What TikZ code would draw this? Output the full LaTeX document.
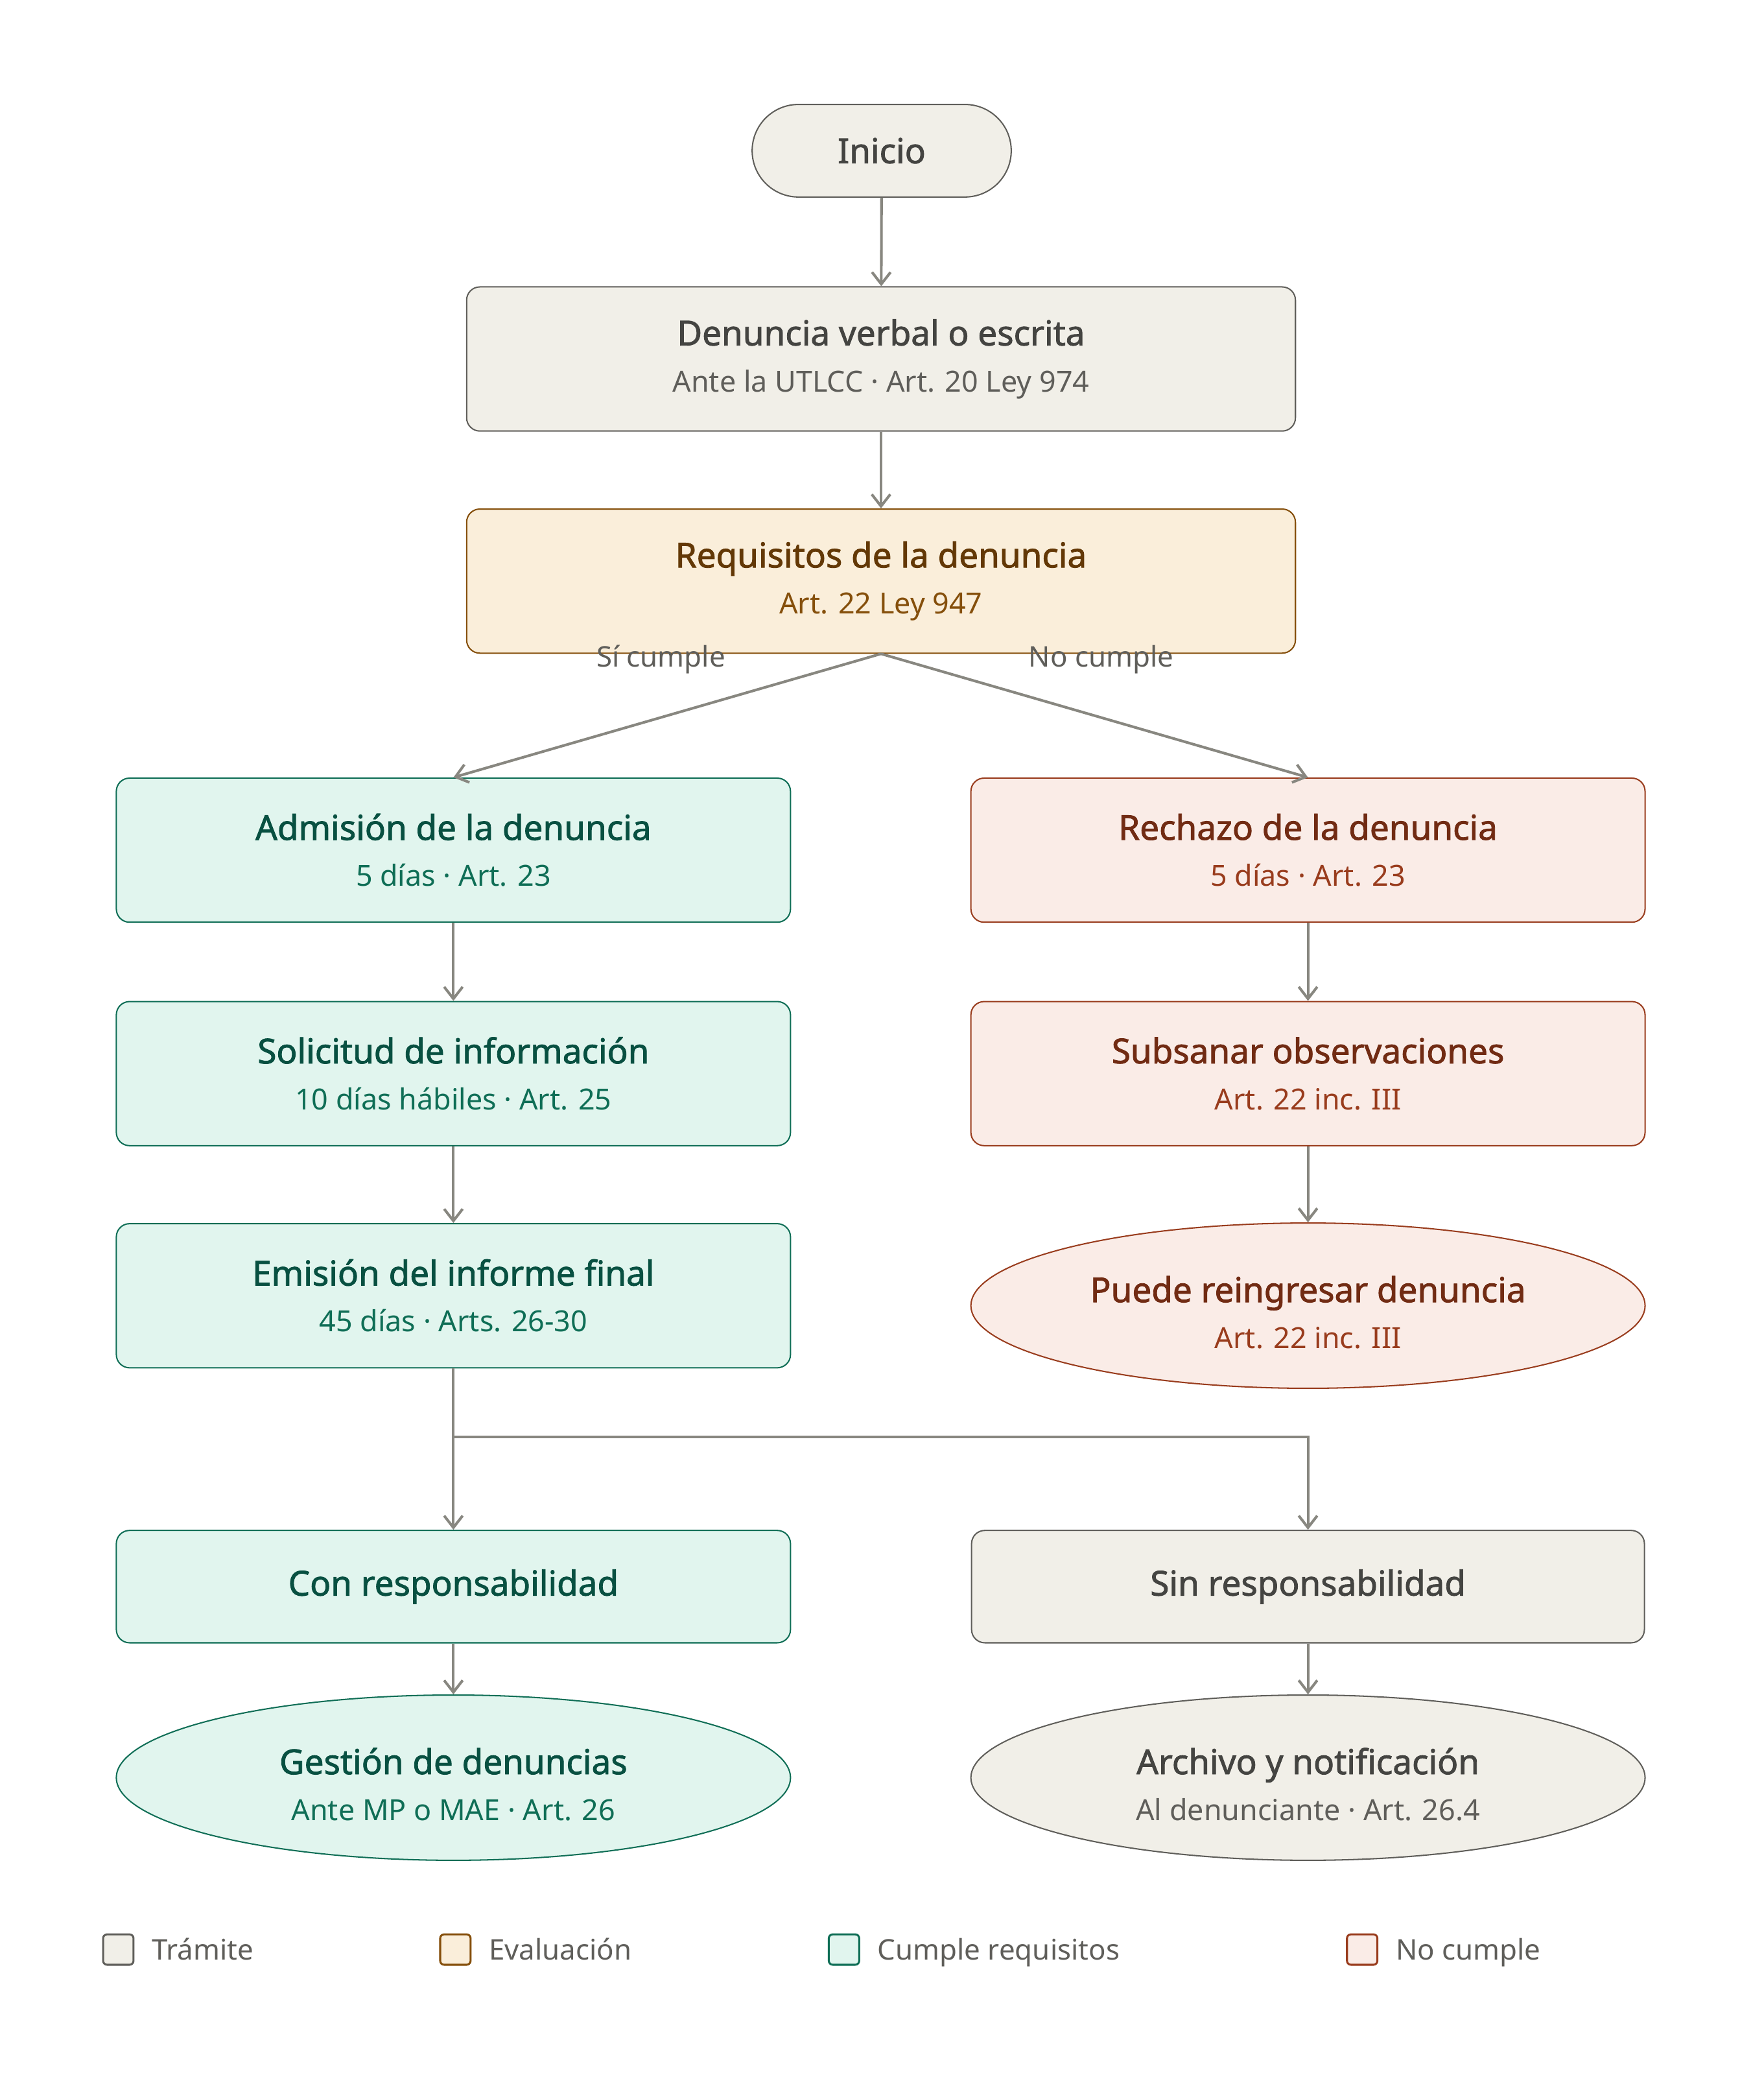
\documentclass[tikz,border=0pt]{standalone}
\usepackage{fontspec}
\setmainfont{Noto Sans}[AutoFakeBold=1.6]
\usetikzlibrary{arrows.meta, shapes.geometric, positioning}

\definecolor{tramfill}{HTML}{F1EFE8}
\definecolor{tramdraw}{HTML}{5F5E5A}
\definecolor{tramtit}{HTML}{444441}
\definecolor{evalfill}{HTML}{FAEEDA}
\definecolor{evaldraw}{HTML}{854F0B}
\definecolor{evaltit}{HTML}{633806}
\definecolor{cumfill}{HTML}{E1F5EE}
\definecolor{cumdraw}{HTML}{0F6E56}
\definecolor{cumtit}{HTML}{085041}
\definecolor{nofill}{HTML}{FAECE7}
\definecolor{nodraw}{HTML}{993C1D}
\definecolor{notit}{HTML}{712B13}
\definecolor{gris}{HTML}{888780}

\newcommand{\titulo}[1]{{\fontsize{26}{35}\selectfont\bfseries #1}}
\newcommand{\tituloelip}[1]{\rule{0pt}{30pt}\titulo{#1}}
\newcommand{\detalle}[2]{{\color{#1}\fontsize{22}{35}\selectfont #2}}

\begin{document}
\begin{tikzpicture}[x=1pt, y=-1pt,
				caja/.style = {shape=rectangle, rounded corners=10pt, line width=1pt,
					align=center, inner sep=0pt, font=\fontsize{22}{35}\selectfont},
				elipse/.style = {caja, shape=ellipse, minimum width=510pt, minimum height=125pt},
				ancho/.style = {minimum width=627pt, minimum height=109pt},
				rama/.style = {minimum width=510pt, minimum height=109pt},
				tram/.style = {caja, fill=tramfill, draw=tramdraw, text=tramtit},
				eval/.style = {caja, fill=evalfill, draw=evaldraw, text=evaltit},
				cumple/.style = {caja, fill=cumfill, draw=cumdraw, text=cumtit},
				nocumple/.style = {caja, fill=nofill, draw=nodraw, text=notit},
				flecha/.style = {draw=gris, line width=2pt, -{Straight Barb[length=9pt, width=14pt]}},
				etiqueta/.style = {text=tramdraw, inner sep=0pt, text height=20pt, text depth=4.8pt,
					font=\fontsize{21.5}{25}\selectfont},
				muestra/.style = {shape=rectangle, rounded corners=3pt, line width=1.5pt,
					minimum size=23pt, inner sep=0pt},
				leyenda/.style = {text=tramdraw, inner sep=0pt, text height=20pt, text depth=4.8pt,
					font=\fontsize{21.5}{25}\selectfont}]
				\useasboundingbox (0,0) rectangle (1334,1569.4);

				% flujo principal
				\node[tram, rounded corners=35pt, minimum width=196pt, minimum height=70pt] (ini) at (667,114) {\titulo{Inicio}};
				\node[tram, ancho] (den) at (666.5,271.5) {\titulo{Denuncia verbal o escrita}\\\detalle{tramdraw}{Ante la UTLCC · Art. 20 Ley 974}};
				\node[eval, ancho] (req) at (666.5,439.5) {\titulo{Requisitos de la denuncia}\\\detalle{evaldraw}{Art. 22 Ley 947}};

				% rama que cumple
				\node[cumple, rama] (adm) at (343,643) {\titulo{Admisión de la denuncia}\\\detalle{cumdraw}{5 días · Art. 23}};
				\node[cumple, rama] (sol) at (343,812) {\titulo{Solicitud de información}\\\detalle{cumdraw}{10 días hábiles · Art. 25}};
				\node[cumple, rama] (emi) at (343,980) {\titulo{Emisión del informe final}\\\detalle{cumdraw}{45 días · Arts. 26-30}};

				% rama que no cumple
				\node[nocumple, rama] (rec) at (989.5,643) {\titulo{Rechazo de la denuncia}\\\detalle{nodraw}{5 días · Art. 23}};
				\node[nocumple, rama] (sub) at (989.5,812) {\titulo{Subsanar observaciones}\\\detalle{nodraw}{Art. 22 inc. III}};
				\node[nocumple, elipse] (reing) at (989.5,987.5) {\tituloelip{Puede reingresar denuncia}\\\detalle{nodraw}{Art. 22 inc. III}};

				% resultado
				\node[cumple, minimum width=510pt, minimum height=85pt] (con) at (343,1200) {\titulo{Con responsabilidad}};
				\node[tram, minimum width=509pt, minimum height=85pt] (sin) at (989.5,1200) {\titulo{Sin responsabilidad}};
				\node[cumple, elipse] (ges) at (343,1344.5) {\tituloelip{Gestión de denuncias}\\\detalle{cumdraw}{Ante MP o MAE · Art. 26}};
				\node[tram, elipse] (arc) at (989.5,1344.5) {\tituloelip{Archivo y notificación}\\\detalle{tramdraw}{Al denunciante · Art. 26.4}};

				% conectores
				\draw[flecha] (ini) -- (den);
				\draw[flecha] (den) -- (req);
				\draw[flecha] (req.south) -- (adm.north);
				\draw[flecha] (req.south) -- (rec.north);
				\node[etiqueta] (lsi) at (500,497) {Sí cumple};
				\node[etiqueta] (lno) at (833,497) {No cumple};
				\draw[flecha] (adm) -- (sol);
				\draw[flecha] (sol) -- (emi);
				\draw[flecha] (rec) -- (sub);
				\draw[flecha] (sub) -- (reing);
				\draw[flecha] (emi) -- (con);
				\coordinate (bif) at (343,1087);
				\draw[flecha] (bif) -| (sin.north);
				\draw[flecha] (con) -- (ges);
				\draw[flecha] (sin) -- (arc);

				% leyenda
				\node[muestra, fill=tramfill, draw=tramdraw] (mt) at (89.5,1474.5) {};
				\node[leyenda, right=13pt of mt] (lt) {Trámite};
				\node[muestra, fill=evalfill, draw=evaldraw] (me) at (344.5,1474.5) {};
				\node[leyenda, right=13pt of me] (le) {Evaluación};
				\node[muestra, fill=cumfill, draw=cumdraw] (mc) at (638.5,1474.5) {};
				\node[leyenda, right=13pt of mc] (lc) {Cumple requisitos};
				\node[muestra, fill=nofill, draw=nodraw] (mn) at (1030.5,1474.5) {};
				\node[leyenda, right=13pt of mn] (ln) {No cumple};
			\end{tikzpicture}
\end{document}
